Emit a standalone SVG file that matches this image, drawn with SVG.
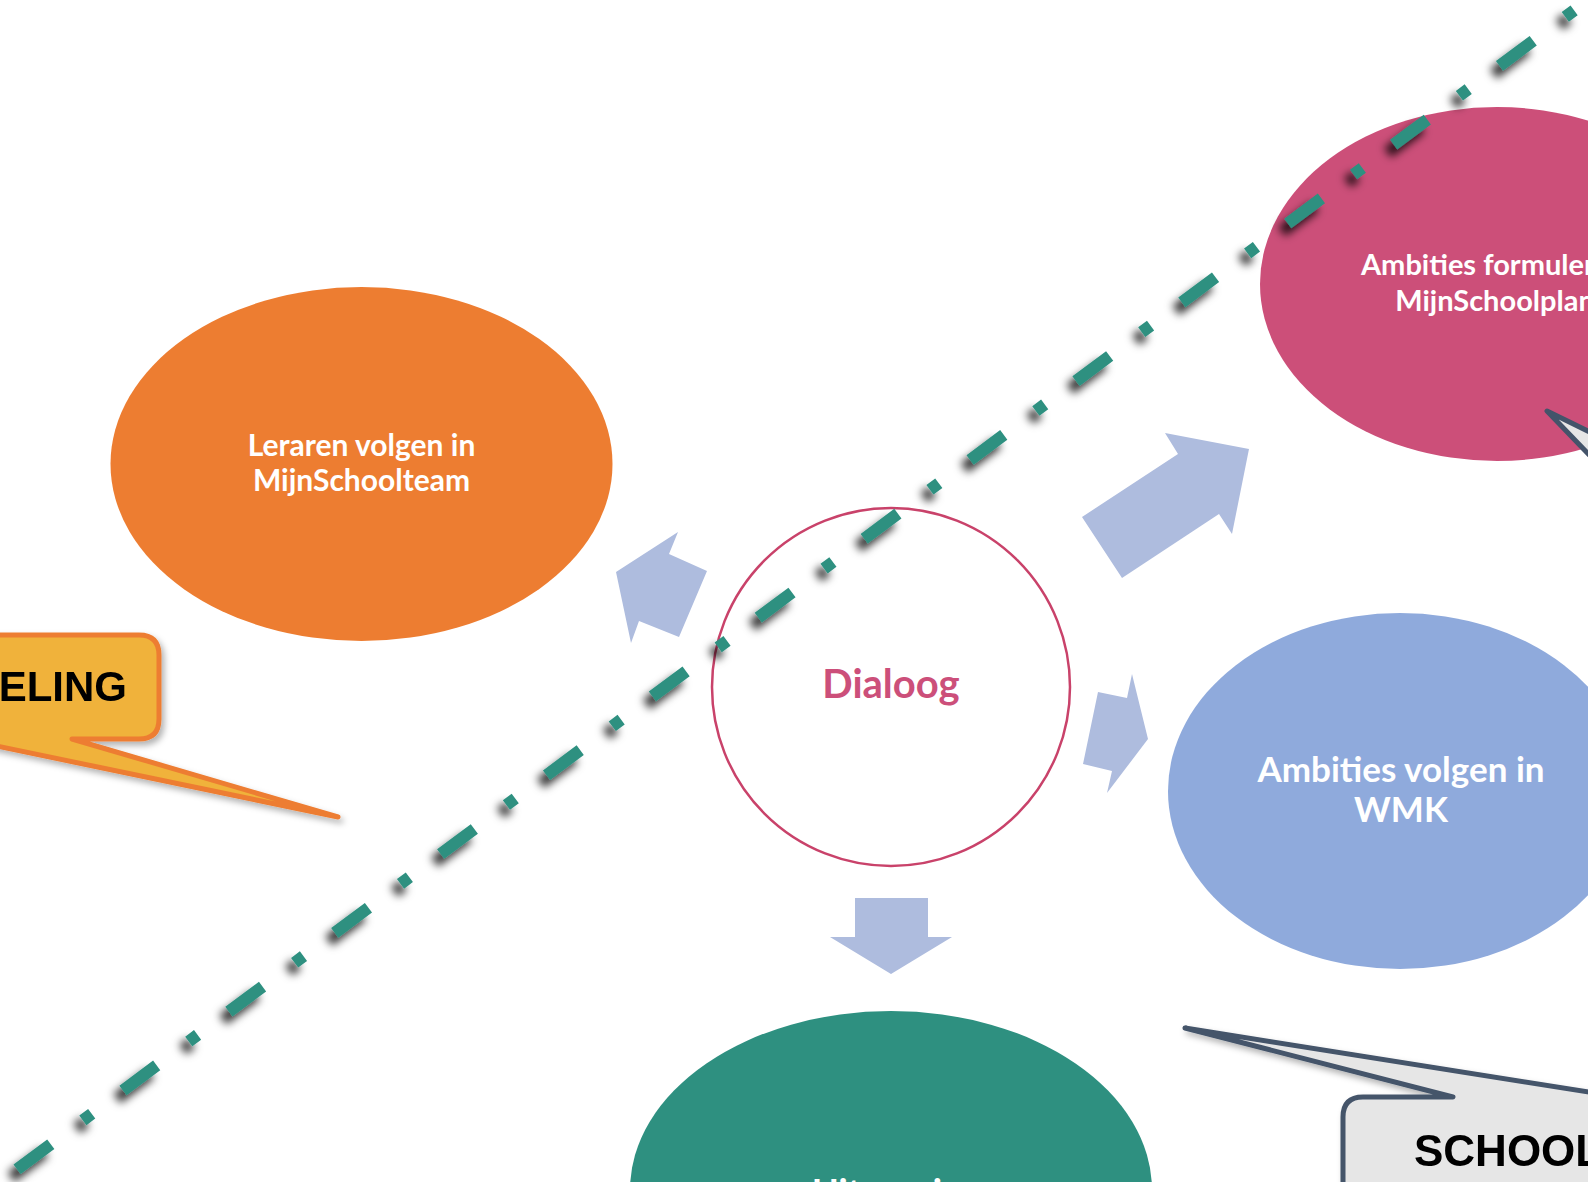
<svg xmlns="http://www.w3.org/2000/svg" width="1588" height="1182" viewBox="0 0 1588 1182">
  <defs>
    <filter id="lineShadow" x="-10%" y="-10%" width="120%" height="120%">
      <feDropShadow dx="-6" dy="8" stdDeviation="4.5" flood-color="#000" flood-opacity="0.8"/>
    </filter>
    <filter id="boxShadow" x="-10%" y="-10%" width="130%" height="130%">
      <feDropShadow dx="3" dy="4" stdDeviation="3" flood-color="#000" flood-opacity="0.3"/>
    </filter>
  </defs>
  <style>
    .node-text { font-family: Lato, "Open Sans", "Noto Sans", sans-serif; font-weight: bold; fill: #FFFFFF; }
    .mid { text-anchor: middle; }
    .start { text-anchor: start; }
    .call-text { font-family: "Liberation Sans", Arial, sans-serif; font-weight: bold; fill: #000000; }
    .arrow { fill: #AEBCDE; stroke: none; }
    .callout-orange { fill: #F0B23A; stroke: #ED7D31; stroke-width: 5; stroke-linejoin: round; }
    .callout-grey { fill: #E6E6E6; stroke: #44546A; stroke-width: 5; stroke-linejoin: round; }
  </style>
  <rect width="1588" height="1182" fill="#FFFFFF"/>

  <g id="connectors">
    <polygon class="arrow" points="616,572 678,532 669,554 707,571 679,637 639,621 631,643"/>
    <polygon class="arrow" points="1122,578 1082,517 1178,454 1165,433 1249,449 1232,534 1219,514"/>
    <polygon class="arrow" points="1098,692 1127,698 1132,674 1148,739 1107,793 1112,771 1083,764"/>
    <polygon class="arrow" points="855,898 928,898 928,937 952,937 891,974 830,937 855,937"/>
  </g>

  <g id="node-leraren">
    <ellipse cx="361.5" cy="464" rx="251" ry="177" fill="#ED7D31"/>
    <text class="node-text mid" x="361.5" y="456" font-size="30">Leraren volgen in</text>
    <text class="node-text mid" x="361.5" y="491" font-size="30">MijnSchoolteam</text>
  </g>

  <g id="node-ambities-formuleren">
    <ellipse cx="1497" cy="284" rx="237" ry="177" fill="#CC4F79"/>
    <text class="node-text start" x="1361" y="275" font-size="29">Ambities formuleren in</text>
    <text class="node-text mid" x="1495" y="311" font-size="29">MijnSchoolplan</text>
  </g>

  <g id="node-ambities-wmk">
    <ellipse cx="1400" cy="791" rx="232" ry="178" fill="#8FAADC"/>
    <text class="node-text mid" x="1401" y="782" font-size="35">Ambities volgen in</text>
    <text class="node-text mid" x="1401" y="822" font-size="35">WMK</text>
  </g>

  <g id="node-uitvoering">
    <ellipse cx="891" cy="1190" rx="261" ry="179" fill="#2E9080"/>
    <text class="node-text start" x="812" y="1205" font-size="36">Uitvoering</text>
  </g>

  <g id="node-dialoog">
    <circle cx="891" cy="687" r="179" fill="#FFFFFF" stroke="#C9426A" stroke-width="2.5"/>
    <text x="891" y="698" font-family="Lato, 'Open Sans', 'Noto Sans', sans-serif" font-weight="bold" font-size="40" fill="#CC4F7A" text-anchor="middle">Dialoog</text>
  </g>

  <g id="callout-pointer-right">
    <polygon class="callout-grey" points="1547,411 1600,437 1600,466" fill="#F2F2F2"/>
  </g>

  <g id="callout-orange" filter="url(#boxShadow)">
    <path class="callout-orange" d="M -40 635 L 139 635 Q 159 635 159 655 L 159 719 Q 159 739 139 739 L 72 739 L 338 817 L -37 739 L -40 739 Z"/>
    <text class="call-text" x="127" y="701" font-size="42" text-anchor="end">ELING</text>
  </g>

  <g id="callout-grey" filter="url(#boxShadow)">
    <path class="callout-grey" d="M 1620 1097 L 1185 1028 L 1453 1097 L 1363 1097 Q 1343 1097 1343 1117 L 1343 1200 L 1620 1200 Z"/>
    <text class="call-text" x="1414" y="1166" font-size="44">SCHOOL</text>
  </g>

  <g id="divider" filter="url(#lineShadow)">
    <line x1="0" y1="1182" x2="1588" y2="0" stroke="#2E9080" stroke-width="12" stroke-dasharray="42 40 11 39" stroke-dashoffset="110.7" stroke-linecap="butt"/>
  </g>
</svg>
